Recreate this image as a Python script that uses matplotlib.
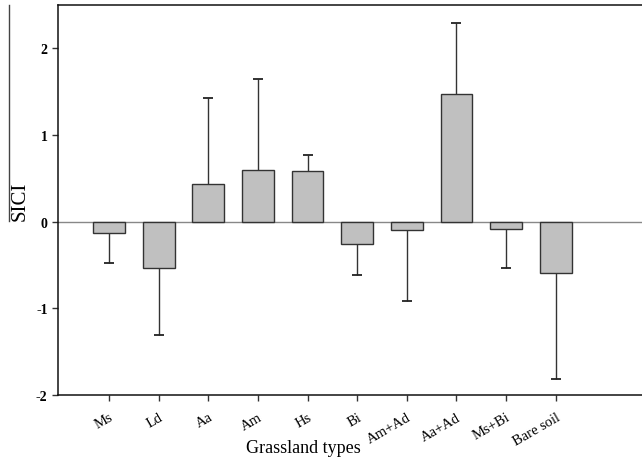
import numpy as np
import matplotlib
matplotlib.use("Agg")
import matplotlib.pyplot as plt
from matplotlib.lines import Line2D

plt.rcParams['font.family'] = ['Liberation Serif', 'DejaVu Serif']

# grassland types, mean SICI and standard deviation
types = ["Ms", "Ld", "Aa", "Am", "Hs", "Bi", "Am+Ad", "Aa+Ad", "Ms+Bi", "Bare soil"]
means = [-0.13, -0.53, 0.43, 0.60, 0.58, -0.26, -0.10, 1.47, -0.09, -0.59]
sds = [0.35, 0.78, 1.00, 1.05, 0.19, 0.36, 0.82, 0.82, 0.45, 1.22]

x = np.arange(len(types))
means_arr = np.array(means)
sds_arr = np.array(sds)
# one-sided error bars, pointing away from zero
ends = means_arr + np.sign(means_arr) * sds_arr

fig = plt.figure(figsize=(6.42, 4.6), dpi=100)
ax = fig.add_axes([58 / 642, 64 / 460, 1 - 58 / 642, 390 / 460])

ax.axhline(0, color='#888888', linewidth=1.0, zorder=1)
ax.vlines(x, means_arr, ends, color='#333333', linewidth=1.0, zorder=2)
ax.hlines(ends, x - 0.1, x + 0.1, color='#222222', linewidth=1.3, zorder=2)
ax.bar(x, means_arr, width=0.64, color='#c0c0c0', edgecolor='#333333',
       linewidth=1.0, zorder=3)

ax.set_xlim(-1.03, 10.74)
ax.set_ylim(-2, 2.5)
ax.set_yticks([-2, -1, 0, 1, 2])
ax.set_yticklabels(['-2', '-1', '0', '1', '2'], fontsize=10, fontweight='bold')
ax.set_xticks(x)
ax.set_xticklabels(types, rotation=30, ha='right', rotation_mode='anchor', fontsize=10.5)
ax.tick_params(axis='both', direction='out', length=4, width=1, color='#333333')
ax.tick_params(axis='x', pad=7)

ax.spines['right'].set_visible(False)
for s in ['left', 'top', 'bottom']:
    ax.spines[s].set_linewidth(1.1)
    ax.spines[s].set_color('#111111')

fig.text(303 / 642, 1 - 449 / 460, "Grassland types", ha='center', va='center', fontsize=13)
fig.text(20 / 642, 1 - 201 / 460, "SICI", rotation=90, ha='center', va='center', fontsize=15)
# long overbar of the axis label
fig.add_artist(Line2D([9.3 / 642, 9.3 / 642], [1 - 6 / 460, 1 - 222 / 460],
                      color='#444444', linewidth=1.0))

fig.savefig("out.png", dpi=100)
